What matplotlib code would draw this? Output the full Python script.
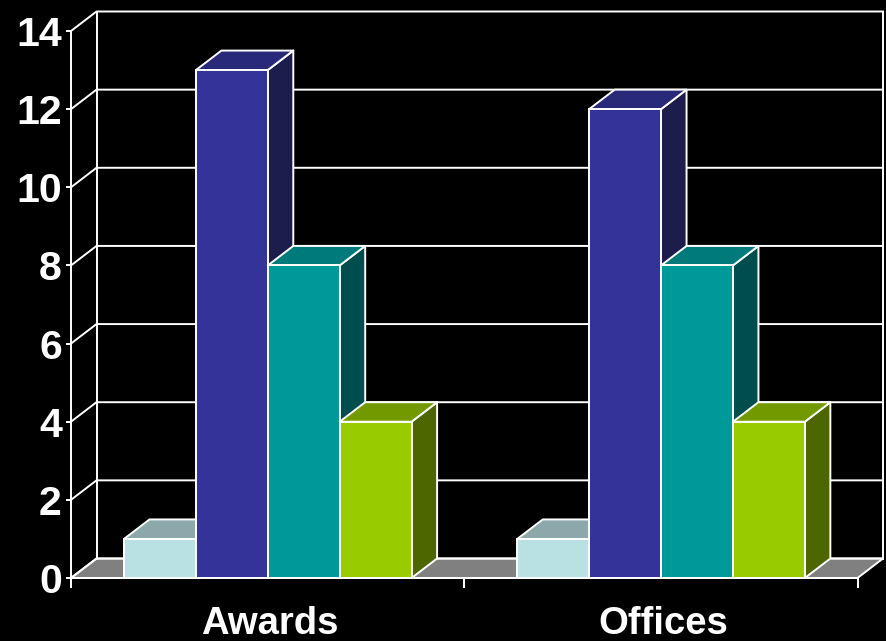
import matplotlib
matplotlib.use('Agg')
import matplotlib.pyplot as plt
from matplotlib.patches import Polygon
from matplotlib.transforms import ScaledTranslation

categories = ['Awards', 'Offices']
series_a = [1, 1]
series_b = [13, 12]
series_c = [8, 8]
series_d = [4, 4]
yticks = [0, 2, 4, 6, 8, 10, 12, 14]

front_colors = ['#B9E0E3', '#333399', '#009999', '#99CC00']
top_colors = ['#8CA8AA', '#29297A', '#007A7A', '#739900']
side_colors = ['#5C7072', '#1C1C4D', '#004D4D', '#4D6600']

W, H = 886, 641
plt.rcParams['font.family'] = ['Liberation Sans', 'DejaVu Sans']
fig = plt.figure(figsize=(W / 100, H / 100), dpi=100, facecolor='black')
ax = fig.add_axes([71 / W, 1 - 578 / H, 786.5 / W, 547 / H], facecolor='none')
ax.set_xlim(0, 2)
ax.set_ylim(0, 14)

# depth of the fake 3d box, in data units
dx = 2 * 25.5 / 786.5
dy = 14 * 19.5 / 547
bar_w = 2 * 71.9 / 786.5
gap = 2 * 53 / 786.5
lw = 1.4


def poly(points, color, z):
    ax.add_patch(Polygon(points, closed=True, facecolor=color, edgecolor='white',
                         linewidth=lw, clip_on=False, zorder=z, joinstyle='round'))


# floor
poly([(0, 0), (dx, dy), (2 + dx, dy), (2, 0)], '#808080', 1)

# walls and gridlines
for v in yticks:
    ax.plot([0, dx, 2 + dx], [v, v + dy, v + dy], color='white', lw=lw, clip_on=False, zorder=1.5)
ax.plot([dx, dx], [dy, 14 + dy], color='white', lw=lw, clip_on=False, zorder=1.5)
ax.plot([2 + dx, 2 + dx], [dy, 14 + dy], color='white', lw=lw, clip_on=False, zorder=1.5)

# bars, left to right so each one covers the side of the previous
z = 2
for i in range(len(categories)):
    x = i + gap
    for j, vals in enumerate([series_a, series_b, series_c, series_d]):
        v = vals[i]
        poly([(x + bar_w, 0), (x + bar_w + dx, dy), (x + bar_w + dx, v + dy), (x + bar_w, v)], side_colors[j], z)
        poly([(x, v), (x + dx, v + dy), (x + bar_w + dx, v + dy), (x + bar_w, v)], top_colors[j], z)
        ax.bar(x, v, width=bar_w, align='edge', color=front_colors[j], edgecolor='white',
               linewidth=lw, zorder=z + 0.5)
        z += 1
        x += bar_w

for s in ['top', 'right']:
    ax.spines[s].set_visible(False)
for s in ['left', 'bottom']:
    ax.spines[s].set_color('white')
    ax.spines[s].set_linewidth(lw)
    ax.spines[s].set_zorder(50)

ax.set_yticks(yticks)
ax.set_yticklabels([str(v) for v in yticks], fontsize=29.5, fontweight='bold', color='white')
ax.tick_params(axis='y', colors='white', length=3.6, width=lw, pad=3)
ax.set_xticks([0, 1, 2])
ax.set_xticklabels([])
ax.tick_params(axis='x', which='major', colors='white', length=7, width=lw)
ax.set_xticks([0.5, 1.5], minor=True)
ax.set_xticklabels(categories, minor=True, fontsize=27.5, fontweight='bold', color='white')
ax.tick_params(axis='x', which='minor', length=0, pad=20.5)

# the labels sit a little right of the category centres in the original
shift = ScaledTranslation(2.5 / 100, 0, fig.dpi_scale_trans)
for lab in ax.get_xticklabels(minor=True):
    lab.set_transform(lab.get_transform() + shift)

fig.savefig('out.png', dpi=100, facecolor='black')
